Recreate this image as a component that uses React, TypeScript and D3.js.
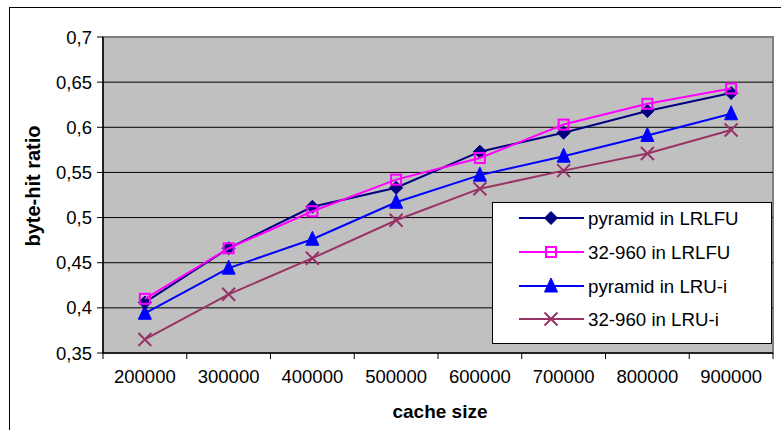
import React from "react";
import * as d3 from "d3";

const categories = ["200000", "300000", "400000", "500000", "600000", "700000", "800000", "900000"];
const pyramidLRLFU = [0.406, 0.466, 0.512, 0.533, 0.573, 0.594, 0.618, 0.638];
const s32960LRLFU = [0.41, 0.466, 0.507, 0.542, 0.566, 0.603, 0.626, 0.643];
const pyramidLRUi = [0.394, 0.444, 0.476, 0.517, 0.547, 0.568, 0.591, 0.615];
const s32960LRUi = [0.365, 0.415, 0.455, 0.497, 0.532, 0.552, 0.571, 0.597];
const yTicks = [0.35, 0.4, 0.45, 0.5, 0.55, 0.6, 0.65, 0.7];
const seriesNames = ["pyramid in LRLFU", "32-960 in LRLFU", "pyramid in LRU-i", "32-960 in LRU-i"];

const W = 781;
const H = 430;
const left = 103;
const right = 773;
const top = 37;
const bottom = 353;
const FONT = "'Liberation Sans', Arial, sans-serif";

type Series = { name: string; values: number[]; color: string; marker: string };

function Marker({ kind, x, y, color }: { kind: string; x: number; y: number; color: string }) {
  if (kind === "diamond") {
    const r = 6.5;
    return <path d={`M${x},${y - r}L${x + r},${y}L${x},${y + r}L${x - r},${y}Z`} fill={color} stroke={color} strokeWidth={1} />;
  }
  if (kind === "square") {
    const r = 5;
    return <rect x={x - r} y={y - r} width={2 * r} height={2 * r} fill="none" stroke={color} strokeWidth={2} />;
  }
  if (kind === "triangle") {
    return <path d={`M${x},${y - 8}L${x + 6.5},${y + 6}L${x - 6.5},${y + 6}Z`} fill={color} stroke={color} strokeWidth={1} />;
  }
  const r = 6.5;
  return (
    <path d={`M${x - r},${y - r}L${x + r},${y + r}M${x - r},${y + r}L${x + r},${y - r}`} stroke={color} strokeWidth={2} fill="none" />
  );
}

export default function App() {
  const x = d3.scaleBand<string>().domain(categories).range([left, right]).paddingInner(0).paddingOuter(0);
  const y = d3.scaleLinear().domain([0.35, 0.7]).range([bottom, top]);
  const cx = (c: string) => (x(c) as number) + x.bandwidth() / 2;

  const series: Series[] = [
    { name: seriesNames[0], values: pyramidLRLFU, color: "#000080", marker: "diamond" },
    { name: seriesNames[1], values: s32960LRLFU, color: "#FF00FF", marker: "square" },
    { name: seriesNames[2], values: pyramidLRUi, color: "#0000FF", marker: "triangle" },
    { name: seriesNames[3], values: s32960LRUi, color: "#993366", marker: "x" },
  ];

  const line = d3
    .line<number>()
    .x((_, i) => cx(categories[i]))
    .y((d) => y(d));

  const drawOrder = [3, 2, 0, 1];

  const legX = 492;
  const legY = 202;
  const legW = 279;
  const legH = 141;
  const rowY = [218, 252, 286, 319];

  const tickBounds = [...categories.map((c) => x(c) as number), right];

  return (
    <svg width={W} height={H} style={{ position: "absolute", left: 0, top: 0, background: "#fff" }} fontFamily={FONT}>
      <rect x={9.5} y={7.5} width={900} height={600} fill="#fff" stroke="#000" strokeWidth={1} />
      <rect x={left} y={top} width={right - left} height={bottom - top} fill="#C0C0C0" stroke="#808080" strokeWidth={2} />
      {yTicks.slice(1, -1).map((t) => (
        <line key={t} x1={left} x2={right} y1={y(t)} y2={y(t)} stroke="#000" strokeWidth={1} />
      ))}
      <line x1={left} x2={left} y1={top} y2={bottom} stroke="#000" strokeWidth={1.5} />
      <line x1={left} x2={right} y1={bottom} y2={bottom} stroke="#000" strokeWidth={1.5} />
      {yTicks.map((t) => (
        <g key={t}>
          <line x1={left - 6} x2={left} y1={y(t)} y2={y(t)} stroke="#000" strokeWidth={1} />
          <text x={92} y={y(t) + 6.5} textAnchor="end" fontSize={18.5}>
            {String(t).replace(".", ",")}
          </text>
        </g>
      ))}
      {tickBounds.map((b, i) => (
        <line key={i} x1={b} x2={b} y1={bottom} y2={bottom + 6} stroke="#000" strokeWidth={1} />
      ))}
      {categories.map((c) => (
        <text key={c} x={cx(c)} y={383} textAnchor="middle" fontSize={18.5}>
          {c}
        </text>
      ))}
      <text x={440} y={418} textAnchor="middle" fontSize={19} fontWeight="bold">
        cache size
      </text>
      <text transform={`translate(39.5,186) rotate(-90)`} textAnchor="middle" fontSize={20} fontWeight="bold">
        byte-hit ratio
      </text>
      {drawOrder.map((si) => {
        const s = series[si];
        return (
          <g key={s.name}>
            <path d={line(s.values) || ""} fill="none" stroke={s.color} strokeWidth={2} />
            {s.values.map((v, i) => (
              <Marker key={i} kind={s.marker} x={cx(categories[i])} y={y(v)} color={s.color} />
            ))}
          </g>
        );
      })}
      <rect x={legX + 0.5} y={legY + 0.5} width={legW} height={legH} fill="#fff" stroke="#000" strokeWidth={1} />
      {series.map((s, i) => (
        <g key={s.name}>
          <line x1={519} x2={584} y1={rowY[i]} y2={rowY[i]} stroke={s.color} strokeWidth={2} />
          <Marker kind={s.marker} x={551} y={rowY[i]} color={s.color} />
          <text x={588} y={rowY[i] + 6.5} fontSize={18.7}>
            {s.name}
          </text>
        </g>
      ))}
    </svg>
  );
}
